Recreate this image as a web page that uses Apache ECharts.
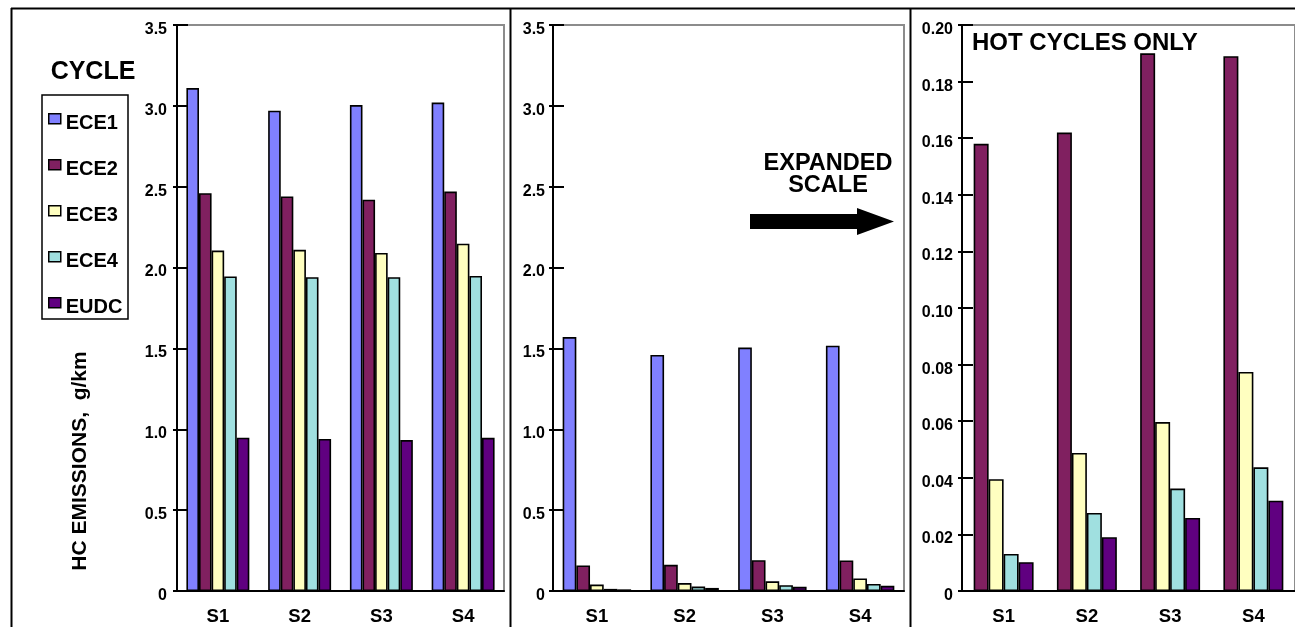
<!DOCTYPE html>
<html><head><meta charset="utf-8">
<script src="https://cdn.jsdelivr.net/npm/echarts@6/dist/echarts.min.js"></script>
<style>html,body{margin:0;padding:0;background:#fff}#c{width:1295px;height:627px}</style>
</head><body><div id="c"></div>
<script>
// ---------- data ----------
const categories = ['S1', 'S2', 'S3', 'S4'];
const seriesNames = ['ECE1', 'ECE2', 'ECE3', 'ECE4', 'EUDC'];
const seriesColors = ['#8080FF', '#802060', '#FFFFC0', '#A0E0E0', '#600080'];

// Panel 1 : all cycles, HC g/km
const p1ECE1 = [3.11, 2.97, 3.005, 3.02];
const p1ECE2 = [2.46, 2.44, 2.42, 2.47];
const p1ECE3 = [2.105, 2.11, 2.09, 2.148];
const p1ECE4 = [1.945, 1.94, 1.94, 1.948];
const p1EUDC = [0.948, 0.94, 0.933, 0.947];

// Panel 2 : ECE1 of the second set
const p2ECE1 = [1.57, 1.46, 1.505, 1.517];

// Hot cycles (shown in panel 2 and on the expanded scale of panel 3)
const hotECE2 = [0.158, 0.162, 0.190, 0.189];
const hotECE3 = [0.0395, 0.0488, 0.0597, 0.0774];
const hotECE4 = [0.0131, 0.0276, 0.0362, 0.0437];
const hotEUDC = [0.0102, 0.0190, 0.0258, 0.0319];

// tick labels
const yLabelsMain = ['0', '0.5', '1.0', '1.5', '2.0', '2.5', '3.0', '3.5'];
const yLabelsHot = ['0', '0.02', '0.04', '0.06', '0.08', '0.10', '0.12', '0.14', '0.16', '0.18', '0.20'];

// ---------- chart ----------
const FONT = '"Liberation Sans", Arial, Helvetica, sans-serif';
const chart = echarts.init(document.getElementById('c'), null, { renderer: 'canvas' });

const grids = [
  { left: 177, top: 25, width: 327, height: 566 },
  { left: 553, top: 25, width: 351, height: 566 },
  { left: 962, top: 25, width: 345, height: 566 }
].map(g => Object.assign(g, { show: true, borderColor: '#8c8c8c', borderWidth: 2, backgroundColor: 'transparent', containLabel: false }));

function xMain(gi) {
  return {
    type: 'category', gridIndex: gi, data: categories, position: 'bottom',
    axisLine: { lineStyle: { color: '#000', width: 2 } },
    axisTick: { inside: false, length: 10, lineStyle: { color: '#000', width: 2 } },
    axisLabel: { color: '#000', fontFamily: FONT, fontWeight: 'bold', fontSize: 18.5, margin: 16 },
    splitLine: { show: false }
  };
}
function xSec(gi) {
  return {
    type: 'category', gridIndex: gi, data: categories, position: 'bottom',
    axisLine: { show: false },
    axisTick: { inside: true, length: 4, lineStyle: { color: '#000', width: 2 } },
    axisLabel: { show: false }, splitLine: { show: false }
  };
}
function yMain(gi, max, interval, labels, margin, extra) {
  return Object.assign({
    type: 'value', gridIndex: gi, position: 'left', min: 0, max: max, interval: interval,
    axisLine: { show: true, lineStyle: { color: '#000', width: 2 } },
    axisTick: { show: true, inside: true, length: 11, lineStyle: { color: '#000', width: 2 } },
    axisLabel: {
      color: '#000', fontFamily: FONT, fontWeight: 'bold', fontSize: 16, margin: margin,
      verticalAlign: 'top', lineHeight: 9,
      formatter: v => labels[Math.round(v / interval)]
    },
    splitLine: { show: false }
  }, extra || {});
}
function ySec(gi, max, interval) {
  return {
    type: 'value', gridIndex: gi, position: 'left', min: 0, max: max, interval: interval,
    axisLine: { show: false },
    axisTick: { show: true, inside: false, length: 4, lineStyle: { color: '#000', width: 2 } },
    axisLabel: { show: false }, splitLine: { show: false }
  };
}

function bar(name, data, gi, gap) {
  const idx = seriesNames.indexOf(name);
  return {
    type: 'bar', name: name, data: data, xAxisIndex: gi, yAxisIndex: gi,
    barGap: '0%', barCategoryGap: gap,
    itemStyle: { color: seriesColors[idx], borderColor: '#000', borderWidth: 1.6 },
    emphasis: { disabled: true }
  };
}

const legendIcon = 'path://M0,0L12,0L12,10L0,10Z M0,20';

const option = {
  animation: false,
  backgroundColor: '#fff',
  textStyle: { fontFamily: FONT },
  grid: grids,
  legend: {
    orient: 'vertical', left: 48, top: 113, padding: 0,
    itemWidth: 12, itemHeight: 20, itemGap: 24.5,
    icon: legendIcon,
    itemStyle: { borderColor: '#000', borderWidth: 1.5 },
    textStyle: { color: '#000', fontFamily: FONT, fontWeight: 'bold', fontSize: 20 },
    data: seriesNames, selectedMode: false
  },
  xAxis: [xMain(0), xMain(1), xMain(2), xSec(0), xSec(1), xSec(2)],
  yAxis: [
    yMain(0, 3.5, 0.5, yLabelsMain, 10, {
      name: 'HC EMISSIONS,  g/km', nameLocation: 'middle', nameRotate: 90, nameGap: 86,
      nameTextStyle: { color: '#000', fontFamily: FONT, fontWeight: 'bold', fontSize: 21, padding: [0, 306, 0, 0] }
    }),
    yMain(1, 3.5, 0.5, yLabelsMain, 8),
    yMain(2, 0.2, 0.02, yLabelsHot, 9),
    ySec(0, 3.5, 0.5), ySec(1, 3.5, 0.5), ySec(2, 0.2, 0.02)
  ],
  series: [
    bar('ECE1', p1ECE1, 0, '23%'),
    bar('ECE2', p1ECE2, 0, '23%'),
    bar('ECE3', p1ECE3, 0, '23%'),
    bar('ECE4', p1ECE4, 0, '23%'),
    bar('EUDC', p1EUDC, 0, '23%'),
    bar('ECE1', p2ECE1, 1, '22%'),
    bar('ECE2', hotECE2, 1, '22%'),
    bar('ECE3', hotECE3, 1, '22%'),
    bar('ECE4', hotECE4, 1, '22%'),
    bar('EUDC', hotEUDC, 1, '22%'),
    bar('ECE2', hotECE2, 2, '28%'),
    bar('ECE3', hotECE3, 2, '28%'),
    bar('ECE4', hotECE4, 2, '28%'),
    bar('EUDC', hotEUDC, 2, '28%')
  ],
  graphic: [
    // outer frame and panel dividers
    { type: 'line', silent: true, shape: { x1: 11, y1: 8.5, x2: 1295, y2: 8.5 }, style: { stroke: '#000', lineWidth: 2 } },
    { type: 'line', silent: true, shape: { x1: 11.5, y1: 8, x2: 11.5, y2: 627 }, style: { stroke: '#000', lineWidth: 2 } },
    { type: 'line', silent: true, shape: { x1: 510.5, y1: 8, x2: 510.5, y2: 627 }, style: { stroke: '#000', lineWidth: 2 } },
    { type: 'line', silent: true, shape: { x1: 910.5, y1: 8, x2: 910.5, y2: 627 }, style: { stroke: '#000', lineWidth: 2 } },
    // legend frame and title
    { type: 'rect', silent: true, shape: { x: 42, y: 95, width: 86, height: 224 }, style: { fill: 'none', stroke: '#000', lineWidth: 1.5 } },
    { type: 'text', silent: true, x: 93, y: 72, style: { text: 'CYCLE', fill: '#000', font: 'bold 25px ' + FONT, align: 'center', verticalAlign: 'middle' } },
    // annotations
    { type: 'text', silent: true, x: 972, y: 43, style: { text: 'HOT CYCLES ONLY', fill: '#000', font: 'bold 24px ' + FONT, align: 'left', verticalAlign: 'middle' } },
    { type: 'text', silent: true, x: 828, y: 175, style: { text: 'EXPANDED\nSCALE', fill: '#000', font: 'bold 23.5px ' + FONT, align: 'center', verticalAlign: 'middle', lineHeight: 22 } },
    { type: 'polygon', silent: true, shape: { points: [[750, 214], [857, 214], [857, 208], [894, 221.5], [857, 235], [857, 229], [750, 229]] }, style: { fill: '#000' } }
  ]
};
chart.setOption(option);
</script>
</body></html>
